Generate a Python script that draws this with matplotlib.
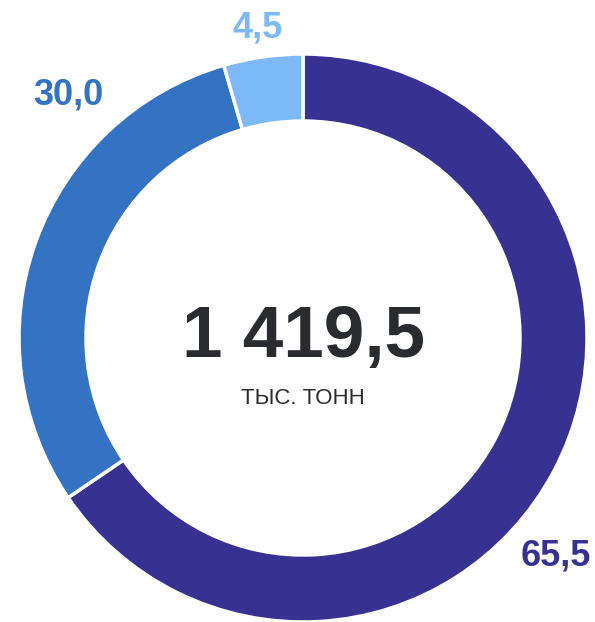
import matplotlib.pyplot as plt

plt.rcParams['font.family'] = ['Liberation Sans', 'DejaVu Sans']

shares = [65.5, 30.0, 4.5]
share_labels = ['65,5', '30,0', '4,5']
colors = ['#373192', '#3472C4', '#7DB8F8']
total_text = '1 419,5'
unit_text = 'ТЫС. ТОНН'

W, H = 595, 622
fig = plt.figure(figsize=(W / 100, H / 100), dpi=100)
ax = fig.add_axes([0, 0, 1, 1])

cx, cy = 303, H - 338
r = 284
ax.pie(shares, colors=colors, startangle=90, counterclock=False,
       center=(cx, cy), radius=r, frame=True,
       wedgeprops=dict(width=67, edgecolor='white', linewidth=2.5))
ax.set_xlim(0, W)
ax.set_ylim(0, H)
ax.set_aspect('equal')
ax.axis('off')

# value labels outside the ring
label_pos = [(556, H - 556), (68, H - 95), (258, H - 28)]
for txt, (x, y), c in zip(share_labels, label_pos, colors):
    ax.text(x, y, txt, color=c, fontsize=26, fontweight='bold',
            ha='center', va='center')

ax.text(cx, H - 338, total_text, color='#2a2b2e', fontsize=52.5,
        fontweight='bold', ha='center', va='center')
ax.text(cx, H - 399, unit_text, color='#2a2b2e', fontsize=16,
        ha='center', va='center')

fig.savefig('out.png', dpi=100)
